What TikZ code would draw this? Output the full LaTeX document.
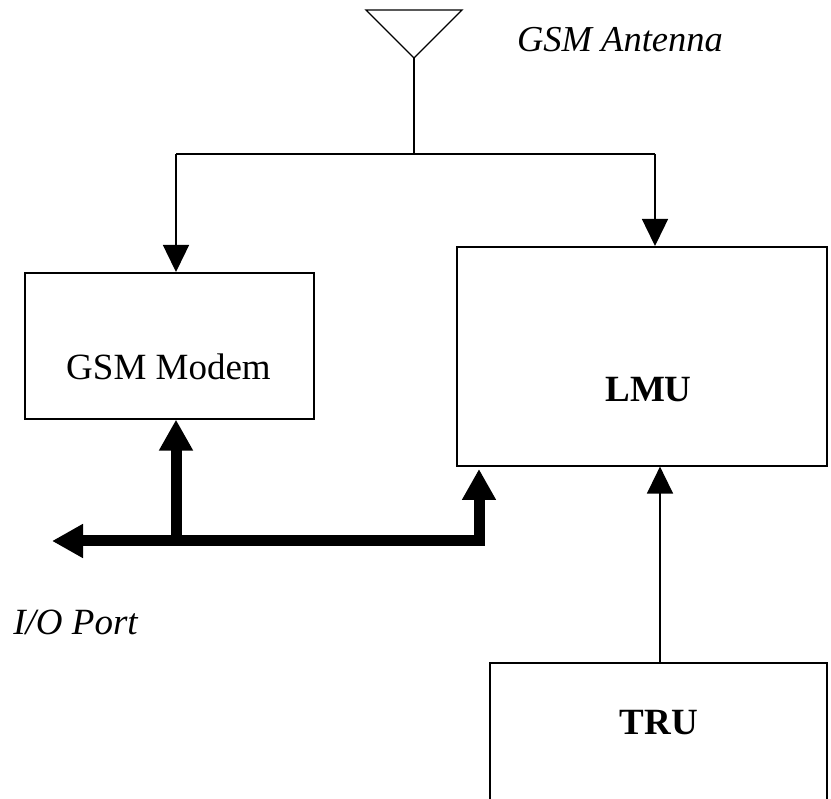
\documentclass[tikz,border=0pt]{standalone}
\usepackage{fontspec}
\setmainfont{Liberation Serif}
\usetikzlibrary{arrows.meta}
\tikzset{
  bushead/.tip={Triangle[length=31pt,width=32pt]},
  sighead/.tip={Triangle[length=27pt,width=26pt]},
}
\begin{document}
\begin{tikzpicture}[x=1pt,y=-1pt,
  thin line/.style={line width=1.4pt, line join=miter},
  box/.style={draw, line width=1.6pt, rectangle, inner sep=0pt},
  sig/.style={thin line, -{sighead}},
  bus/.style={line width=11pt, line join=miter, line cap=butt},
  txt/.style={font=\fontsize{37}{44}\selectfont, inner sep=0pt, anchor=base},
  ]
  \clip (0,0) rectangle (831,799);
  \fill[white] (0,0) rectangle (831,799);

  % antenna symbol and its feed line
  \draw[thin line] (366,10) -- (462,10) -- (414,58) -- cycle;
  \coordinate (feed) at (414,58);
  \coordinate (split) at (414,154);
  \draw[thin line] (feed) -- (split);
  \node[txt, font=\fontsize{36.5}{44}\selectfont\itshape] (antlabel) at (620,52) {GSM Antenna};

  % blocks
  \node[box, minimum width=289pt, minimum height=146pt, anchor=north west] (modem) at (24,272) {};
  \node[txt] (modemtext) at (168.5,380) {GSM Modem};
  \node[box, minimum width=370pt, minimum height=219pt, anchor=north west] (lmu) at (456,246) {};
  \node[txt, font=\fontsize{37}{44}\selectfont\bfseries] (lmutext) at (648.5,402) {LMU};
  \node[box, minimum width=337pt, minimum height=240pt, anchor=north west] (tru) at (489,662) {};
  \node[txt, font=\fontsize{37}{44}\selectfont\bfseries] (trutext) at (659,735) {TRU};

  % antenna distribution
  \coordinate (lt) at (176,154);
  \coordinate (rt) at (655,154);
  \draw[thin line] (lt) -- (rt);
  \draw[sig] (lt) -- (lt |- modem.north);
  \draw[sig] (rt) -- (rt |- lmu.north);

  % TRU to LMU
  \coordinate (trutop) at (660,662);
  \draw[sig] (trutop) -- (trutop |- lmu.south);

  % I/O bus
  \coordinate (lmuin) at (479,469);
  \coordinate (busr) at (479,541);
  \coordinate (io) at (52,541);
  \coordinate (tap) at (176,541);
  \draw[bus, {bushead}-{bushead}] (lmuin) -- (busr) -- (io);
  \draw[bus, -{bushead}] ([yshift=5.5pt]tap) -- (modem.south -| tap);
  \node[txt, font=\fontsize{37}{44}\selectfont\itshape] (iolabel) at (75.5,635) {I/O Port};
\end{tikzpicture}
\end{document}
